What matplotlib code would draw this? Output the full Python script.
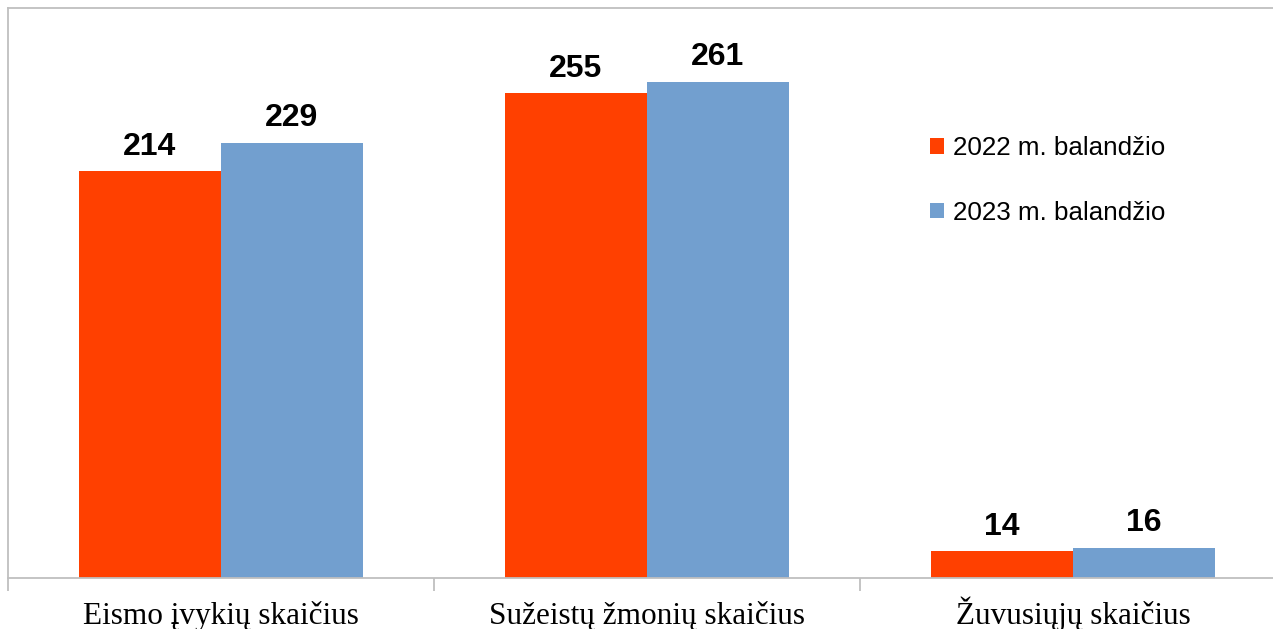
import matplotlib
matplotlib.use("Agg")
import matplotlib.pyplot as plt
from matplotlib.patches import Patch
import matplotlib.transforms as mtransforms
import numpy as np

categories = ["Eismo įvykių skaičius", "Sužeistų žmonių skaičius", "Žuvusiųjų skaičius"]
series_names = ["2022 m. balandžio", "2023 m. balandžio"]
values_2022 = [214, 255, 14]
values_2023 = [229, 261, 16]
colors = ["#FF4000", "#729FCF"]

W, H = 1273, 629
fig = plt.figure(figsize=(W / 100, H / 100), dpi=100)
ax = fig.add_axes([8 / W, (H - 578) / H, 1278 / W, 570 / H])

x = np.arange(len(categories))
bw = 1 / 3
b1 = ax.bar(x - bw / 2, values_2022, bw, color=colors[0], label=series_names[0])
b2 = ax.bar(x + bw / 2, values_2023, bw, color=colors[1], label=series_names[1])

for bars in (b1, b2):
    for rect in bars:
        ax.annotate(f"{int(rect.get_height())}",
                    (rect.get_x() + rect.get_width() / 2, rect.get_height()),
                    xytext=(0, 7), textcoords="offset points",
                    ha="center", va="bottom", fontsize=23, fontweight="bold",
                    family="Liberation Sans")

ax.set_xlim(-0.5, 2.5)
ax.set_ylim(0, 300)
ax.set_yticks([])
ax.set_xticks([-0.5, 0.5, 1.5, 2.5])
ax.set_xticklabels([])
ax.tick_params(axis="x", which="major", length=9, width=1.3, color="#BFBFBF")

# category labels, baseline-aligned
trans = mtransforms.blended_transform_factory(ax.transData, fig.transFigure)
for xi, cat in zip(x, categories):
    ax.text(xi, 1 - 624 / H, cat, transform=trans, ha="center", va="baseline",
            fontsize=22.5, family="Liberation Serif", clip_on=False)

for s in ax.spines.values():
    s.set_color("#BFBFBF")
    s.set_linewidth(1.3)
ax.spines["right"].set_visible(False)

handles = [Patch(facecolor=c) for c in colors]
leg = fig.legend(handles, series_names, loc="upper left",
                 bbox_to_anchor=(930 / W, 1 - 136 / H),
                 frameon=False, prop={"family": "Liberation Sans", "size": 18.7},
                 handlelength=0.55, handleheight=0.55, handletextpad=0.33,
                 labelspacing=1.57, borderpad=0, borderaxespad=0)

fig.savefig("out.png", dpi=100)
